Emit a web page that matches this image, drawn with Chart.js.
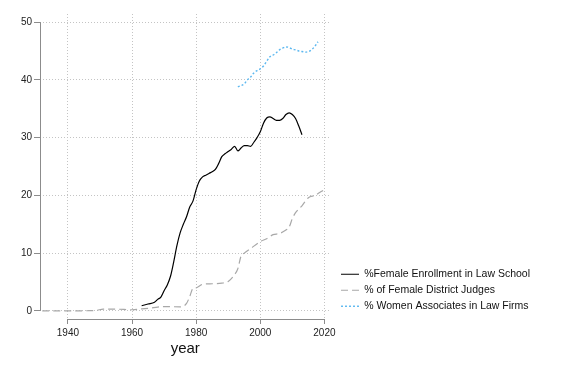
<!DOCTYPE html>
<html>
<head>
<meta charset="utf-8">
<script src="https://cdn.jsdelivr.net/npm/chart.js@4/dist/chart.umd.min.js"></script>
<style>
  html, body { margin: 0; padding: 0; background: #fff; }
  #wrap { width: 565px; height: 377px; }
</style>
</head>
<body>
<div id="wrap"><canvas id="chart"></canvas></div>
<script>
// values
var enrollYears  = [1963, 1965, 1967, 1968, 1969, 1970, 1971, 1972, 1973, 1974, 1975, 1976, 1977, 1978, 1979, 1980,
                    1981, 1982, 1983, 1984, 1985, 1986, 1987, 1988, 1989, 1990, 1991, 1992, 1993, 1994, 1995, 1996,
                    1997, 1998, 1999, 2000, 2001, 2002, 2003, 2004, 2005, 2006, 2007, 2008, 2009, 2010, 2011, 2012, 2013];
var enrollValues = [0.9, 1.2, 1.5, 2.0, 2.4, 3.5, 4.5, 6.0, 8.5, 11.3, 13.5, 15.0, 16.3, 18.0, 19.0, 21.0,
                    22.5, 23.2, 23.5, 23.8, 24.1, 24.5, 25.5, 26.7, 27.2, 27.6, 28.0, 28.5, 27.7, 28.2, 28.6, 28.6,
                    28.5, 29.2, 30.0, 31.0, 32.5, 33.4, 33.6, 33.3, 33.0, 33.0, 33.3, 34.0, 34.3, 34.0, 33.3, 32.0, 30.5];

var judgeYears  = [1932, 1940, 1947, 1949, 1951, 1955, 1960, 1963, 1966, 1970, 1975, 1977, 1978, 1979, 1980, 1982,
                   1985, 1988, 1990, 1992, 1993, 1994, 1995, 1997, 2000, 2002, 2004, 2006, 2008, 2009, 2010, 2011,
                   2013, 2015, 2017, 2020];
var judgeValues = [0, 0, 0.05, 0.1, 0.3, 0.3, 0.2, 0.35, 0.5, 0.75, 0.7, 1.3, 2.5, 3.9, 4.0, 4.6,
                   4.7, 4.8, 5.1, 6.3, 7.3, 9.5, 10.0, 10.8, 12.0, 12.5, 13.2, 13.4, 14.0, 14.5, 16.0, 17.0,
                   18.2, 19.6, 20.0, 21.0];

var assocYears  = [1993, 1994, 1995, 1996, 1997, 1998, 1999, 2000, 2001, 2002, 2003, 2004, 2005, 2006, 2007, 2008,
                   2009, 2010, 2011, 2012, 2013, 2014, 2015, 2016, 2017, 2018];
var assocValues = [38.8, 39.0, 39.3, 40.0, 40.5, 41.2, 41.6, 41.9, 42.4, 43.2, 44.0, 44.3, 44.7, 45.2, 45.5, 45.7,
                   45.6, 45.3, 45.2, 45.0, 44.9, 44.8, 44.9, 45.2, 45.8, 46.6];

var seriesNames = ["%Female Enrollment in Law School", "% of Female District Judges", "% Women Associates in Law Firms"];
var xTicks = [1940, 1960, 1980, 2000, 2020];
var yTicks = [0, 10, 20, 30, 40, 50];

var axisColor = "#8c8c8c",
    gridColor = "#c4c4c4",
    fontName  = "'Liberation Sans', Arial, sans-serif";

var toPoints = function(xs, ys){
    return xs.map(function(x, i){ return {x: x, y: ys[i]}; });
};

// stata style axis lines that only span the tick range
var axisLines = {
    id: "axisLines",
    beforeDatasetsDraw: function(chart){
        var ctx = chart.ctx,
            xs  = chart.scales.x,
            ys  = chart.scales.y,
            area = chart.chartArea;
        ctx.save();
        ctx.strokeStyle = axisColor;
        ctx.lineWidth = 1;
        ctx.setLineDash([]);
        ctx.beginPath();
        ctx.moveTo(Math.round(area.left) + 0.5, ys.getPixelForValue(yTicks[0]));
        ctx.lineTo(Math.round(area.left) + 0.5, ys.getPixelForValue(yTicks[yTicks.length - 1]));
        ctx.moveTo(xs.getPixelForValue(xTicks[0]), Math.round(area.bottom) + 0.5);
        ctx.lineTo(xs.getPixelForValue(xTicks[xTicks.length - 1]), Math.round(area.bottom) + 0.5);
        ctx.stroke();
        ctx.restore();
    }
};

// small nudge so the legend sits where it does in the original
var legendNudge = {
    id: "legendNudge",
    afterLayout: function(chart){
        var l = chart.legend;
        if (!l) return;
        l.left += 5;
        l.right += 5;
        l.top -= 2;
        l.bottom -= 2;
    }
};

Chart.defaults.font.family = fontName;
Chart.defaults.color = "#222";

var chart = new Chart(document.getElementById("chart"), {
    type: "line",
    data: {
        datasets: [{
            label: seriesNames[0],
            data: toPoints(enrollYears, enrollValues),
            borderColor: "#000000",
            backgroundColor: "#000000",
            borderWidth: 1.2
        }, {
            label: seriesNames[1],
            data: toPoints(judgeYears, judgeValues),
            borderColor: "#a8a8a8",
            backgroundColor: "#a8a8a8",
            borderWidth: 1.2,
            borderDash: [7, 4]
        }, {
            label: seriesNames[2],
            data: toPoints(assocYears, assocValues),
            borderColor: "#5cb8f0",
            backgroundColor: "#5cb8f0",
            borderWidth: 1.4,
            borderDash: [2, 2]
        }]
    },
    options: {
        responsive: true,
        maintainAspectRatio: false,
        animation: false,
        layout: { padding: { top: 14, right: 30, left: 0, bottom: 0 } },
        elements: {
            point: { radius: 0 },
            line: { tension: 0.25, cubicInterpolationMode: "monotone" }
        },
        plugins: {
            tooltip: { enabled: false },
            legend: {
                position: "right",
                align: "end",
                fullSize: false,
                labels: {
                    usePointStyle: true,
                    pointStyle: "line",
                    pointStyleWidth: 18,
                    boxHeight: 6,
                    padding: 5.5,
                    color: "#111",
                    font: { size: 10.5 },
                    // point style legends take the point's style, so copy the line dash back in
                    generateLabels: function(chart){
                        var items = Chart.defaults.plugins.legend.labels.generateLabels(chart);
                        items.forEach(function(item){
                            var ds = chart.data.datasets[item.datasetIndex];
                            item.lineDash = ds.borderDash || [];
                            item.strokeStyle = ds.borderColor;
                            item.lineWidth = ds.borderWidth;
                        });
                        return items;
                    }
                }
            }
        },
        scales: {
            x: {
                type: "linear",
                min: 1931.3,
                max: 2021.9,
                afterBuildTicks: function(scale){
                    scale.ticks = xTicks.map(function(v){ return {value: v}; });
                },
                afterFit: function(scale){ scale.height = 58; },
                border: { display: false, dash: [1, 2] },
                grid: {
                    color: gridColor,
                    drawTicks: true,
                    tickLength: 5,
                    tickColor: axisColor,
                    tickBorderDash: []
                },
                ticks: {
                    padding: 3,
                    maxRotation: 0,
                    color: "#222",
                    font: { size: 10 },
                    callback: function(v){ return String(v); }
                },
                title: {
                    display: true,
                    text: "year",
                    color: "#111",
                    font: { size: 15 },
                    padding: { top: 2, bottom: 19 }
                }
            },
            y: {
                min: -1.4,
                max: 51.4,
                afterBuildTicks: function(scale){
                    scale.ticks = yTicks.map(function(v){ return {value: v}; });
                },
                afterFit: function(scale){ scale.width = 40; },
                border: { display: false, dash: [1, 2] },
                grid: {
                    color: gridColor,
                    drawTicks: true,
                    tickLength: 6,
                    tickColor: axisColor,
                    tickBorderDash: []
                },
                ticks: {
                    padding: 2,
                    color: "#222",
                    font: { size: 10 }
                }
            }
        }
    },
    plugins: [axisLines, legendNudge]
});

// the layout caps a side legend at a quarter of the width; let it be wide enough for its labels
var legendFit = chart.legend.fit;
chart.legend.fit = function(){
    this.maxWidth = 260;
    legendFit.call(this);
};
chart.update();
</script>
</body>
</html>
